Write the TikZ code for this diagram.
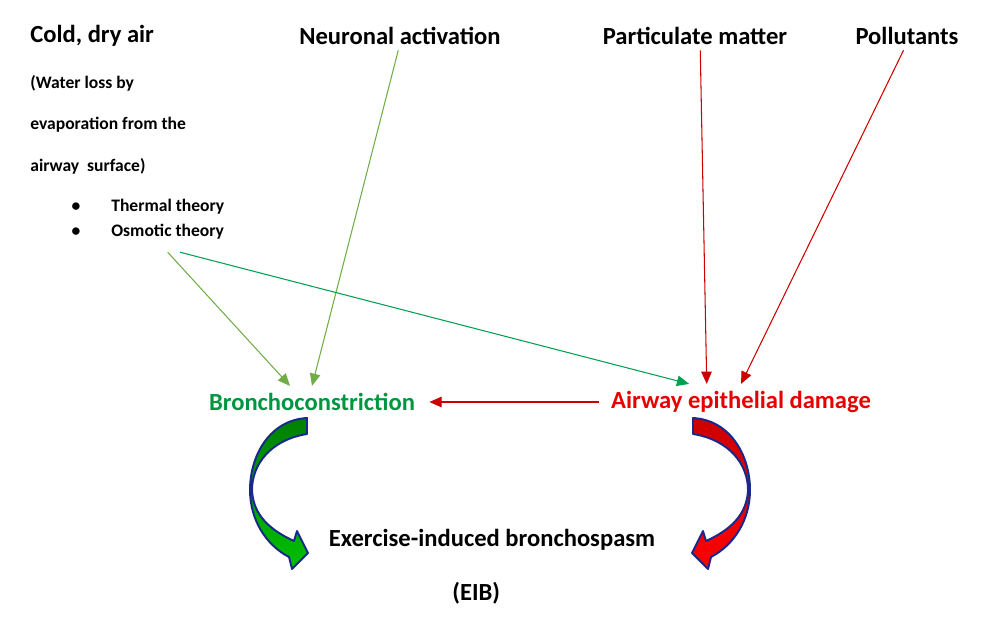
\documentclass[tikz,border=0pt]{standalone}
\usepackage{fontspec}
\setmainfont{Carlito}
\usetikzlibrary{arrows.meta,positioning}
\definecolor{bronchgreen}{RGB}{0,150,64}
\definecolor{damagered}{RGB}{232,0,0}
\definecolor{olivearrow}{RGB}{112,173,71}
\definecolor{greenarrow}{RGB}{0,160,80}
\definecolor{redarrow}{RGB}{205,0,0}
\definecolor{rimblue}{RGB}{25,40,140}

\newcommand{\bendarrow}[2]{%
  \path[draw=rimblue,line width=1.1pt,line join=round,top color=#1,bottom color=#2]
    (307,418) .. controls (270,420) and (250,455) .. (250,490)
    .. controls (250,520) and (266,545) .. (289,557) -- (292,569) -- (308,553)
    -- (297,531) -- (294,541) .. controls (270,530) and (253,515) .. (252,490)
    .. controls (252,465) and (270,440) .. (307,434) -- cycle;}

\begin{document}
\begin{tikzpicture}[x=0.02cm,y=-0.02cm,>={Triangle[length=7pt,width=6pt]}]
  \tikzstyle{big}=[font=\fontsize{14}{17}\selectfont\bfseries,inner sep=3pt]
  \tikzstyle{small}=[font=\fontsize{10}{12}\selectfont\bfseries,anchor=west,inner sep=0pt]
  \useasboundingbox (0,0) rectangle (986,642);
  % left column
  \node[big,anchor=west,inner sep=0pt] (cold) at (30,36) {Cold, dry air};
  \node[small] (water) at (30,83) {(Water loss by};
  \node[small] (evap) at (30,125) {evaporation from the};
  \node[small] (surf) at (30,166) {airway\ \ surface)};
  \node[small] (therm) at (111,207) {Thermal theory};
  \node[small] (osm) at (111,232) {Osmotic theory};
  \node[small,anchor=center] (dot1) at (76,207) {\textbullet};
  \node[small,anchor=center] (dot2) at (76,232) {\textbullet};
  % top causes
  \node[big] (neur) at (400,36) {Neuronal activation};
  \node[big] (part) at (695,36) {Particulate matter};
  \node[big] (poll) at (907,36) {Pollutants};
  % effects
  \node[big,text=bronchgreen] (bron) at (312,402) {Bronchoconstriction};
  \node[big,text=damagered] (dmg) at (741,402) {Airway epithelial damage};
  \node[big] (eib) at (492,540) {Exercise-induced bronchospasm};
  \node[big,below=0.4cm of eib,xshift=-9pt] (eibshort) {(EIB)};
  % connectors
  \draw[olivearrow,line width=0.6pt,->] ([yshift=-7pt]osm.south) -- ([xshift=-12.5pt,yshift=1pt]bron.north);
  \draw[olivearrow,line width=0.6pt,->] ([xshift=-1pt]neur.south) -- ([yshift=1pt]bron.north);
  \draw[greenarrow,line width=0.6pt,->] ([xshift=7pt,yshift=-7pt]osm.south) -- ([xshift=-29.5pt,yshift=1pt]dmg.north);
  \draw[redarrow,line width=0.6pt,->] ([xshift=3pt]part.south) -- ([xshift=-19.5pt,yshift=1pt]dmg.north);
  \draw[redarrow,line width=0.6pt,->] ([xshift=-2pt]poll.south) -- ([yshift=1pt]dmg.north);
  \draw[redarrow,line width=0.6pt,->,shorten <=4pt,shorten >=5pt] (dmg.west) -- (bron.east);
  % curved arrows
  \bendarrow{green!50!black}{green!75!black}
  \begin{scope}[shift={(1000,0)},xscale=-1]
    \bendarrow{red!80!black}{red}
  \end{scope}
\end{tikzpicture}
\end{document}
